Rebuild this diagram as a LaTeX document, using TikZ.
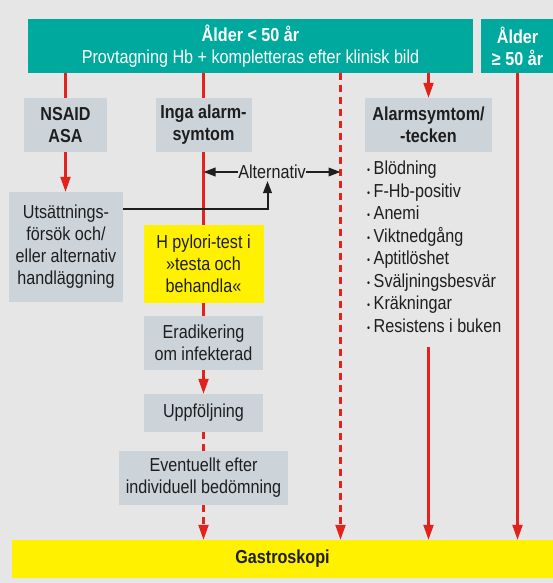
\documentclass[tikz,border=0pt]{standalone}
\usepackage{fontspec}
\setmainfont[FakeStretch=0.86]{Liberation Sans}
\usetikzlibrary{arrows.meta}
\definecolor{bg}{HTML}{E6E6E6}
\definecolor{tealc}{HTML}{00A99D}
\definecolor{boxgray}{HTML}{CCD4DA}
\definecolor{yel}{HTML}{FFF100}
\definecolor{ink}{HTML}{1E1E1E}
\definecolor{redline}{HTML}{E2221C}
\newcommand{\blt}{{\fontsize{10}{10}\selectfont\raisebox{1.2pt}{•}}\hspace{3.5pt}}
\begin{document}
\begin{tikzpicture}[x=1pt,y=-1pt,
  txt/.style={font=\fontsize{18.8}{22}\selectfont, text=ink},
  bx/.style={txt, fill=boxgray, inner sep=0pt, align=center},
  ybx/.style={bx, fill=yel},
  tbx/.style={font=\fontsize{18.8}{22}\selectfont, text=white, fill=tealc, inner sep=0pt, align=center},
  bld/.style={font=\fontsize{18.8}{22}\selectfont\bfseries},
  rl/.style={draw=redline, line width=2.2pt},
  ra/.style={rl, -{Triangle[length=15pt,width=10pt]}},
  rd/.style={rl, dash pattern=on 7pt off 5pt},
  ba/.style={draw=ink, line width=2pt, -{Triangle[length=12pt,width=8.5pt]}}
]
\fill[bg] (0,0) rectangle (553,583);
\useasboundingbox (0,0) rectangle (553,583);

% top boxes
\node[tbx, minimum width=445pt, minimum height=54pt] (teal1) at (250.5,46)
  {\textbf{Ålder < 50 år}\\Provtagning Hb + kompletteras efter klinisk bild};
\node[tbx, bld, minimum width=73pt, minimum height=54pt] (teal2) at (517.5,46)
  {Ålder\\≥ 50 år};

% second row
\node[bx, bld, minimum width=83pt, minimum height=54pt] (nsaid) at (65.5,125) {NSAID\\ASA};
\node[bx, bld, minimum width=96pt, minimum height=54pt] (inga) at (203.5,125) {Inga alarm-\\symtom};
\node[bx, bld, minimum width=127pt, minimum height=54pt] (alarm) at (428.5,125) {Alarmsymtom/\\-tecken};

\node[bx, minimum width=114pt, minimum height=110pt] (utsatt) at (66,247)
  {Utsättnings-\\försök och/\\eller alternativ\\handläggning};
\node[ybx, minimum width=120pt, minimum height=78pt] (hpyl) at (203.5,264)
  {H pylori-test i\\»testa och\\behandla«};
\node[bx, minimum width=119pt, minimum height=54pt] (erad) at (203.5,343) {Eradikering\\om infekterad};
\node[bx, minimum width=119pt, minimum height=38pt] (uppf) at (203.5,413) {Uppföljning};
\node[bx, minimum width=169pt, minimum height=54pt] (event) at (203.5,478) {Eventuellt efter\\individuell bedömning};
\node[ybx, bld, minimum width=541pt, minimum height=38pt] (gastro) at (282.5,559) {Gastroskopi};

% list
\node[font=\fontsize{18.8}{22.5}\selectfont, text=ink, anchor=north west, align=left, inner sep=0pt] (list) at (367,161)
  {\blt Blödning\\
   \blt F-Hb-positiv\\
   \blt Anemi\\
   \blt Viktnedgång\\
   \blt Aptitlöshet\\
   \blt Sväljningsbesvär\\
   \blt Kräkningar\\
   \blt Resistens i buken};

% Alternativ
\node[txt, inner sep=0pt] (alt) at (272,172) {Alternativ};

% coordinates
\coordinate (dtop) at (340.5,73);
\coordinate (alstart) at (428.5,347);
\coordinate (ujoin) at (123,208.5);
\coordinate (altup) at (267.5,181);

% red connectors
\draw[rl] (nsaid.north |- teal1.south) -- (nsaid.north);
\draw[ra] (nsaid.south) -- (nsaid.south |- utsatt.north);
\draw[rl] (inga.north |- teal1.south) -- (inga.north);
\draw[rl] (inga.south) -- (hpyl.north);
\draw[rl] (hpyl.south) -- (erad.north);
\draw[ra] (erad.south) -- (uppf.north);
\draw[rd] (uppf.south) -- (event.north);
\draw[rd, -{Triangle[length=15pt,width=10pt]}] (event.south) -- (gastro.north -| event.south);
\draw[rd, -{Triangle[length=15pt,width=10pt]}] (dtop) -- (gastro.north -| dtop);
\draw[ra] (alarm.north |- teal1.south) -- (alarm.north);
\draw[ra] (alstart) -- (gastro.north -| alstart);
\draw[ra] (teal2.south) -- (gastro.north -| teal2.south);

% black connectors
\draw[ba] (alt.west) -- (alt.west -| inga.south);
\draw[ba] (alt.east) -- (alt.east -| dtop);
\draw[ba] (ujoin) -| (altup);
\end{tikzpicture}
\end{document}
